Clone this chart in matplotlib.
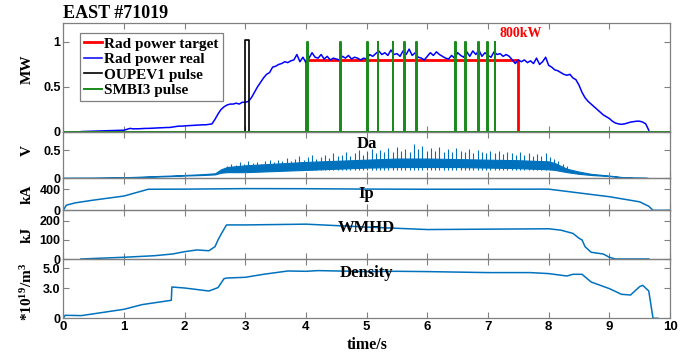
import numpy as np
import matplotlib
matplotlib.use("Agg")
import matplotlib.pyplot as plt

plt.rcParams['mathtext.default'] = 'regular'

# ---------------- data ----------------
# Panel 1: radiated power
target_t = [0.0, 4.0, 7.5, 10.0]
target_v = [0.0, 0.8, 0.0, 0.0]

real_t = [round(0.05 * i, 2) for i in range(194)]
real_v = [0.00, 0.00, 0.00, 0.00, 0.00, 0.00, 0.005, 0.006, 0.008, 0.009,
          0.010, 0.010, 0.012, 0.012, 0.014, 0.013, 0.015, 0.015, 0.016, 0.017,
          0.020, 0.030, 0.040, 0.035, 0.035, 0.036, 0.038, 0.040, 0.040, 0.042,
          0.044, 0.045, 0.046, 0.048, 0.050, 0.050, 0.055, 0.060, 0.065, 0.065,
          0.068, 0.070, 0.072, 0.074, 0.075, 0.078, 0.080, 0.080, 0.085, 0.090,
          0.140, 0.200, 0.250, 0.280, 0.300, 0.310, 0.310, 0.320, 0.310, 0.330,
          0.330, 0.340, 0.380, 0.440, 0.500, 0.550, 0.600, 0.640, 0.660, 0.720,
          0.730, 0.750, 0.760, 0.780, 0.770, 0.790, 0.800, 0.860, 0.780, 0.830,
          0.770, 0.820, 0.880, 0.830, 0.820, 0.860, 0.810, 0.840, 0.800, 0.820,
          0.810, 0.800, 0.840, 0.820, 0.850, 0.810, 0.830, 0.820, 0.800, 0.820,
          0.810, 0.860, 0.840, 0.870, 0.900, 0.860, 0.880, 0.850, 0.910, 0.860,
          0.870, 0.840, 0.900, 0.860, 0.920, 0.850, 0.880, 0.830, 0.820, 0.800,
          0.840, 0.880, 0.850, 0.890, 0.860, 0.840, 0.820, 0.810, 0.850, 0.820,
          0.880, 0.850, 0.830, 0.890, 0.840, 0.900, 0.860, 0.910, 0.840, 0.880,
          0.850, 0.830, 0.890, 0.860, 0.870, 0.840, 0.860, 0.840, 0.800, 0.760,
          0.800, 0.780, 0.800, 0.770, 0.790, 0.760, 0.820, 0.750, 0.780, 0.830,
          0.740, 0.720, 0.690, 0.680, 0.660, 0.640, 0.630, 0.640, 0.600, 0.580,
          0.520, 0.440, 0.380, 0.340, 0.310, 0.280, 0.250, 0.220, 0.190, 0.170,
          0.150, 0.120, 0.100, 0.090, 0.085, 0.090, 0.100, 0.110, 0.115, 0.120,
          0.120, 0.110, 0.090, 0.020]

oupev_start, oupev_end, oupev_amp = 2.99, 3.06, 1.02
smbi_times = [4.02, 4.56, 5.01, 5.18, 5.43, 5.62, 5.82, 6.46, 6.62, 6.84, 6.99, 7.11]
smbi_width = 0.012
smbi_amp = 1.0

# Panel 2: Da (band envelope + spikes)
da_t = [0.0, 0.5, 1.0, 1.5, 2.0, 2.3, 2.5, 2.6, 2.7, 2.8, 3.0, 3.5, 4.0, 4.5, 5.0, 5.5,
        6.0, 6.5, 7.0, 7.5, 8.0, 8.1, 8.2, 8.3, 8.5, 8.7, 9.0, 9.2, 9.4, 9.6, 9.7, 10.0]
da_low = [0.01, 0.01, 0.015, 0.03, 0.05, 0.06, 0.07, 0.10, 0.11, 0.11, 0.11, 0.13, 0.15, 0.17,
          0.19, 0.20, 0.20, 0.20, 0.19, 0.18, 0.16, 0.15, 0.13, 0.11, 0.08, 0.06, 0.04, 0.02,
          0.01, 0.01, 0.0, 0.0]
da_high = [0.01, 0.012, 0.02, 0.04, 0.06, 0.075, 0.09, 0.16, 0.20, 0.21, 0.23, 0.26, 0.29, 0.31,
           0.33, 0.35, 0.35, 0.34, 0.33, 0.32, 0.30, 0.27, 0.22, 0.17, 0.12, 0.08, 0.05, 0.025,
           0.015, 0.012, 0.0, 0.0]
spike_t = [round(2.70 + 0.07 * i, 2) for i in range(81)]
spike_v = [0.22, 0.26, 0.24, 0.28, 0.25, 0.30, 0.27, 0.29, 0.26, 0.31,
           0.33, 0.28, 0.32, 0.30, 0.36, 0.31, 0.34, 0.40, 0.33, 0.37,
           0.42, 0.35, 0.38, 0.41, 0.36, 0.44, 0.39, 0.42, 0.47, 0.40,
           0.45, 0.50, 0.42, 0.48, 0.52, 0.44, 0.50, 0.46, 0.53, 0.47,
           0.55, 0.49, 0.51, 0.47, 0.60, 0.52, 0.57, 0.48, 0.53, 0.49,
           0.55, 0.46, 0.51, 0.47, 0.53, 0.49, 0.46, 0.51, 0.45, 0.50,
           0.47, 0.44, 0.49, 0.45, 0.48, 0.43, 0.47, 0.44, 0.42, 0.46,
           0.41, 0.44, 0.40, 0.43, 0.39, 0.45, 0.38, 0.34, 0.30, 0.26, 0.21]

# Panel 3: Ip
ip_t = [0.0, 0.05, 0.2, 0.5, 1.0, 1.4, 2.0, 3.0, 4.0, 5.0, 6.0, 7.0, 8.0, 9.0, 9.5, 9.65, 9.72, 10.0]
ip_v = [0, 97, 142, 194, 271, 400, 402, 412, 410, 403, 400, 401, 402, 258, 161, 77, 0, 0]

# Panel 4: WMHD
wm_t = [0.29, 1.0, 1.5, 1.8, 2.0, 2.2, 2.4, 2.5, 2.55, 2.61, 2.69, 3.0, 4.0, 5.0, 6.0, 7.0,
        8.0, 8.2, 8.4, 8.5, 8.55, 8.6, 8.7, 8.9, 9.0, 9.1, 9.65]
wm_v = [0, 9, 17, 26, 38, 47, 43, 64, 99, 134, 177, 177, 181, 166, 153, 155,
        157, 150, 133, 108, 99, 64, 35, 26, 9, 0, 0]

# Panel 5: density
ne_t = [0.0, 0.03, 0.3, 0.7, 1.0, 1.3, 1.78, 1.79, 2.0, 2.4, 2.55, 2.65, 2.7, 3.0, 3.3, 3.7,
        4.0, 4.2, 5.0, 5.5, 6.0, 7.0, 7.7, 8.0, 8.3, 8.4, 8.55, 8.7, 9.0, 9.2, 9.35, 9.5,
        9.55, 9.65, 9.68, 9.72, 9.8]
ne_v = [0.0, 0.3, 0.27, 0.63, 0.9, 1.37, 1.8, 3.13, 3.03, 2.73, 3.07, 3.97, 4.03, 4.1, 4.4,
        4.73, 4.7, 4.77, 4.67, 4.7, 4.67, 4.57, 4.57, 4.47, 4.23, 4.4, 4.4, 3.63, 2.97, 2.4,
        2.33, 3.17, 3.3, 2.73, 1.57, 0.0, 0.0]

x_ticks = list(range(0, 11))
panel_titles = ['Da', 'Ip', 'WMHD', 'Density']

# ---------------- figure ----------------
W, H = 689, 356
fig = plt.figure(figsize=(W / 100, H / 100), dpi=100)

left, right = 63.3, 670.0
bounds = [(23, 132), (132, 178.4), (178.4, 210.3), (210.3, 259), (259, 318.3)]
axes = []
for top, bot in bounds:
    ax = fig.add_axes([left / W, 1 - bot / H, (right - left) / W, (bot - top) / H])
    axes.append(ax)

serif = 'Liberation Serif'
sans = 'Liberation Sans'
grey = '#808080'
mblue = '#0072BD'
green = '#1a8a1a'

for ax in axes:
    ax.set_xlim(0, 10)
    ax.set_xticks(x_ticks)
    ax.tick_params(axis='both', direction='in', top=True, right=True, length=4.5,
                   width=0.8, color=grey, labelsize=9, pad=2)
    for s in ax.spines.values():
        s.set_color(grey)
        s.set_linewidth(0.9)
    ax.set_facecolor('none')
for ax in axes[:-1]:
    ax.tick_params(labelbottom=False)

# Panel 1
ax1 = axes[0]
ax1.plot(target_t, target_v, color='red', lw=2.0, drawstyle='steps-post', label='Rad power target')
ax1.plot(real_t, real_v, color='blue', lw=1.1, label='Rad power real')
ox = [0.0, oupev_start, oupev_start, oupev_end, oupev_end, 10.0]
oy = [0.0, 0.0, oupev_amp, oupev_amp, 0.0, 0.0]
ax1.plot(ox, oy, color='black', lw=1.2, label='OUPEV1 pulse')
gx, gy = [0.0], [0.0]
for p in smbi_times:
    gx += [p, p, p + smbi_width, p + smbi_width]
    gy += [0.0, smbi_amp, smbi_amp, 0.0]
gx.append(10.0)
gy.append(0.0)
ax1.plot(gx, gy, color=green, lw=1.4, label='SMBI3 pulse')
ax1.set_ylim(0, 1.21)
ax1.set_yticks([0, 0.5, 1])
ax1.set_yticklabels(['0', '0.5', '1'], fontfamily=sans, fontweight='bold')
leg = ax1.legend(loc='upper left', bbox_to_anchor=(0.0275, 0.908), borderaxespad=0,
                 prop={'family': serif, 'weight': 'bold', 'size': 11},
                 handlelength=1.2, handletextpad=0.15, borderpad=0.25, labelspacing=0.12,
                 fancybox=False, framealpha=1, edgecolor=grey)
leg.get_frame().set_linewidth(0.9)
ax1.text(7.19, 1.05, '800kW', color='red', fontfamily=serif, fontweight='bold', fontsize=10)
ax1.text(0.0, 1.2 + 0.02, 'EAST #71019', transform=ax1.get_yaxis_transform(),
         fontfamily=serif, fontweight='bold', fontsize=13, ha='left', va='bottom')

# Panel 2
ax2 = axes[1]
ax2.fill_between(da_t, da_low, da_high, color=mblue, lw=0.8, edgecolor=mblue)
ax2.vlines(spike_t, [0.15] * len(spike_t), spike_v, color=mblue, lw=0.8)
ax2.set_ylim(0, 0.817)
ax2.set_yticks([0, 0.5])
ax2.set_yticklabels(['0', '0.5'], fontfamily=sans, fontweight='bold')

# Panel 3
ax3 = axes[2]
ax3.plot(ip_t, ip_v, color=mblue, lw=1.1)
ax3.set_ylim(0, 606)
ax3.set_yticks([0, 400])
ax3.set_yticklabels(['0', '400'], fontfamily=sans, fontweight='bold')

# Panel 4
ax4 = axes[3]
ax4.plot(wm_t, wm_v, color=mblue, lw=1.1)
ax4.set_ylim(0, 253)
ax4.set_yticks([0, 100, 200])
ax4.set_yticklabels(['0', '100', '200'], fontfamily=sans, fontweight='bold')

# Panel 5
ax5 = axes[4]
ax5.plot(ne_t, ne_v, color=mblue, lw=1.1)
ax5.set_ylim(0, 5.93)
ax5.set_yticks([0, 3, 5])
ax5.set_yticklabels(['0', '3.0', '5.0'], fontfamily=sans, fontweight='bold')
ax5.set_xticklabels([str(v) for v in x_ticks], fontfamily=sans, fontweight='bold', fontsize=9.5)
ax5.set_xlabel('time/s', fontfamily=serif, fontweight='bold', fontsize=11.5, labelpad=3)

# panel titles inside tops
title_offsets = [4, 8, 9.5, 6]
for ax, t, off in zip(axes[1:], panel_titles, title_offsets):
    ax.annotate(t, xy=(0.5, 1.0), xycoords='axes fraction', xytext=(0, -off),
                textcoords='offset pixels', ha='center', va='top',
                fontfamily=serif, fontweight='bold', fontsize=12)

# y labels
ylabels = ['MW', 'V', 'kA', 'kJ', r'*10$^{19}$/m$^{3}$']
ylab_y = [0.58, 0.61, 0.5, 0.5, 0.45]
for ax, lab, yy in zip(axes, ylabels, ylab_y):
    ax.set_ylabel(lab, fontfamily=serif, fontweight='bold', fontsize=11, va='center')
    ax.yaxis.set_label_coords(-0.06, yy)

fig.savefig('out.png', dpi=100)
